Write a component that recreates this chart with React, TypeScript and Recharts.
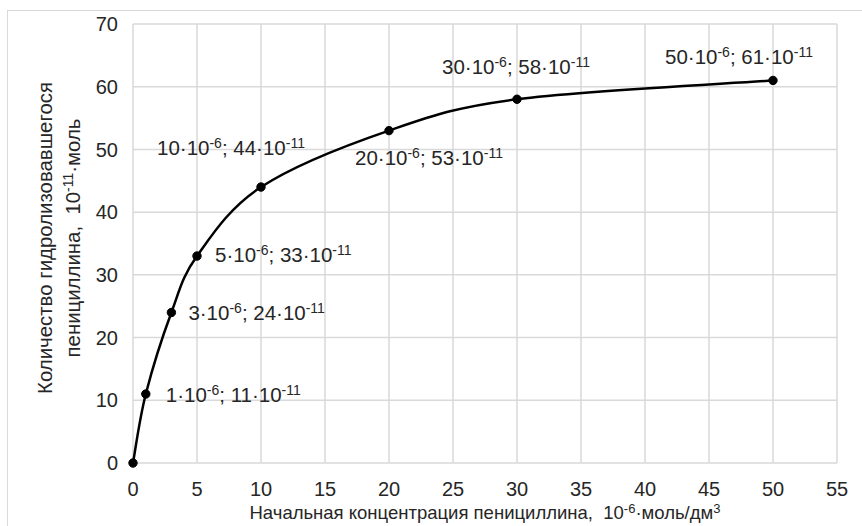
import React from 'react';
import { LineChart, Line, XAxis, YAxis, CartesianGrid, LabelList, Label } from 'recharts';

// initial penicillin concentration, 10^-6 mol/dm3
const concentrations = [0, 1, 3, 5, 10, 20, 30, 50];
// hydrolysed penicillin, 10^-11 mol
const hydrolyzed = [0, 11, 24, 33, 44, 53, 58, 61];

const xTicks = [0, 5, 10, 15, 20, 25, 30, 35, 40, 45, 50, 55];
const yTicks = [0, 10, 20, 30, 40, 50, 60, 70];

const data = concentrations.map((x, i) => ({ x, y: hydrolyzed[i] }));

// where each point label sits relative to its point: [dx, dy to baseline]
const labelOffsets: (number[] | null)[] = [
  null,
  [20, 8],
  [17, 8],
  [18, 6],
  [-104, -32],
  [-34, 34],
  [-75, -25],
  [-108, -16],
];

const FONT = '"Liberation Sans", Arial, sans-serif';
const TEXT = '#262626';
const LABEL_SIZE = 20.5;
const SUP_SIZE = 14;

// Excel-like smoothed line (Catmull-Rom through the projected points)
const smoothCurve = (context: any) => {
  let pts: number[][] = [];
  return {
    areaStart() {},
    areaEnd() {},
    lineStart() {
      pts = [];
    },
    point(x: number, y: number) {
      pts.push([+x, +y]);
    },
    lineEnd() {
      if (!pts.length) return;
      context.moveTo(pts[0][0], pts[0][1]);
      const k = 1 / 6;
      for (let i = 0; i < pts.length - 1; i++) {
        const p0 = pts[Math.max(i - 1, 0)];
        const p1 = pts[i];
        const p2 = pts[i + 1];
        const p3 = pts[Math.min(i + 2, pts.length - 1)];
        context.bezierCurveTo(
          p1[0] + (p2[0] - p0[0]) * k,
          p1[1] + (p2[1] - p0[1]) * k,
          p2[0] - (p3[0] - p1[0]) * k,
          p2[1] - (p3[1] - p1[1]) * k,
          p2[0],
          p2[1]
        );
      }
    },
  };
};

const PointLabel = (props: any) => {
  const { x, y, index } = props;
  const off = labelOffsets[index];
  if (!off) return null;
  const d = data[index];
  return (
    <text x={x + off[0]} y={y + off[1]} fontFamily={FONT} fontSize={LABEL_SIZE} fill={TEXT}>
      {`${d.x}·10`}
      <tspan dy={-7} fontSize={SUP_SIZE}>-6</tspan>
      <tspan dy={7} fontSize={LABEL_SIZE}>{`; ${d.y}·10`}</tspan>
      <tspan dy={-7} fontSize={SUP_SIZE}>-11</tspan>
    </text>
  );
};

const XTitle = () => (
  <text x={485} y={519} textAnchor="middle" fontFamily={FONT} fontSize={18.5} fill={TEXT}>
    {'Начальная концентрация пенициллина,\u00a0 10'}
    <tspan dy={-6} fontSize={13}>-6</tspan>
    <tspan dy={6} fontSize={18.5}>·моль/дм</tspan>
    <tspan dy={-6} fontSize={13}>3</tspan>
  </text>
);

const YTitle = () => (
  <g transform="rotate(-90, 59, 238)" fontFamily={FONT} fill={TEXT}>
    <text x={59} y={231} textAnchor="middle" fontSize={20.4}>
      Количество гидролизовавшегося
    </text>
    <text x={59} y={259} textAnchor="middle" fontSize={20.4}>
      {'пенициллина,\u00a0 10'}
      <tspan dy={-7} fontSize={SUP_SIZE}>-11</tspan>
      <tspan dy={7} fontSize={20.4}>·моль</tspan>
    </text>
  </g>
);

export default function App() {
  return (
    <div style={{ position: 'absolute', left: 0, top: 0, width: 862, height: 526, background: '#fff', overflow: 'hidden' }}>
      <div
        style={{
          position: 'absolute',
          left: 7,
          top: 10,
          right: -4,
          bottom: -4,
          borderTop: '1.5px solid #d9d9d9',
          borderLeft: '1.5px solid #d9d9d9',
        }}
      />
      <div style={{ position: 'absolute', left: 0, top: 0 }}>
        <LineChart width={862} height={526} data={data} margin={{ top: 24, right: 25, bottom: 33, left: 83 }}>
          <CartesianGrid stroke="#d9d9d9" strokeWidth={1.5} />
          <XAxis
            dataKey="x"
            type="number"
            domain={[0, 55]}
            ticks={xTicks}
            interval={0}
            height={30}
            axisLine={false}
            tickLine={false}
            tickMargin={13}
            tick={{ fontFamily: FONT, fontSize: 20, fill: TEXT }}
          >
            <Label content={<XTitle />} />
          </XAxis>
          <YAxis
            type="number"
            domain={[0, 70]}
            ticks={yTicks}
            interval={0}
            width={50}
            axisLine={false}
            tickLine={false}
            tickMargin={9}
            tick={{ fontFamily: FONT, fontSize: 20, fill: TEXT }}
          >
            <Label content={<YTitle />} />
          </YAxis>
          <Line
            dataKey="y"
            type={smoothCurve as any}
            stroke="#000"
            strokeWidth={2.5}
            dot={{ r: 4.2, fill: '#000', stroke: '#000', strokeWidth: 1 }}
            isAnimationActive={false}
          >
            <LabelList dataKey="y" content={<PointLabel />} />
          </Line>
        </LineChart>
      </div>
    </div>
  );
}
